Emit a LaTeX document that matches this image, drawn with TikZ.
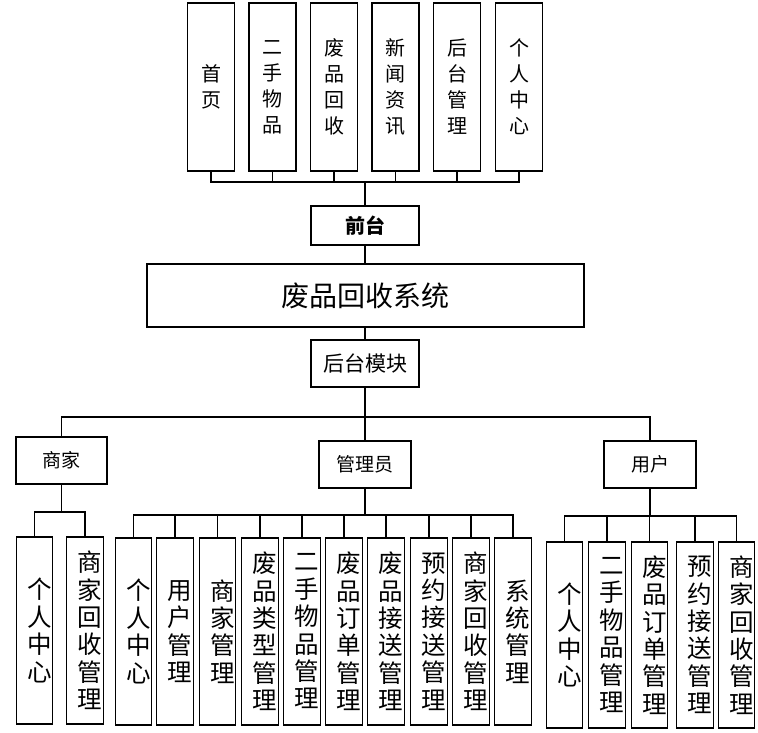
\documentclass[tikz,border=0pt]{standalone}
\usepackage{fontspec}
\newfontfamily\cjk{Noto Sans CJK SC}
\begin{document}
\begin{tikzpicture}[x=1pt,y=-1pt,
  box/.style={draw,line width=1.4pt,rectangle,inner sep=0pt,align=center},
  topbox/.style={box,minimum width=47pt,minimum height=168pt,font=\cjk\fontsize{20}{26}\selectfont},
  hbox/.style={box,minimum width=92pt,minimum height=47pt,font=\cjk\fontsize{19}{22}\selectfont},
  leaf/.style={box,minimum width=36.5pt,minimum height=187pt},
  leaftext/.style={align=center,inner sep=0pt,font=\cjk\fontsize{24.5}{27.4}\selectfont},
  wire/.style={line width=1.4pt}]
\useasboundingbox (0,0) rectangle (758,732);
% top row
\node[topbox] (t1) at (211,87) {首\\页};
\node[topbox] (t2) at (272.5,87) {二\\手\\物\\品};
\node[topbox] (t3) at (334,87) {废\\品\\回\\收};
\node[topbox] (t4) at (395.5,87) {新\\闻\\资\\讯};
\node[topbox] (t5) at (457,87) {后\\台\\管\\理};
\node[topbox] (t6) at (519,87) {个\\人\\中\\心};
\coordinate (topbus) at (365,182);
% centre column
\node[box,minimum width=108pt,minimum height=39pt,font=\cjk\bfseries\fontsize{20}{24}\selectfont] (qt) at (365,225.5) {前台};
\node[box,minimum width=437pt,minimum height=63pt,font=\cjk\fontsize{28}{32}\selectfont] (sys) at (365.5,295.5) {废品回收系统};
\node[box,minimum width=108pt,minimum height=47pt,font=\cjk\fontsize{21}{24}\selectfont] (ht) at (365,363.5) {后台模块};
\coordinate (midbus) at (365,417);
% second level
\node[hbox,minimum width=91pt] (sj) at (61.5,460.5) {商家};
\node[hbox] (gl) at (365,464.5) {管理员};
\node[hbox] (yh) at (650,464.5) {用户};
% leaves: merchant
\node[leaf,label={[leaftext,xshift=5pt]center:个\\人\\中\\心}] (s1) at (34.5,630.5) {};
\node[leaf,label={[leaftext,xshift=5pt]center:商\\家\\回\\收\\管\\理}] (s2) at (85,630.5) {};
\coordinate (sbus) at (61.5,512);
% leaves: admin
\node[leaf,label={[leaftext,xshift=5pt]center:个\\人\\中\\心}] (g1) at (133.5,631.5) {};
\node[leaf,label={[leaftext,xshift=5pt]center:用\\户\\管\\理}] (g2) at (175,631.5) {};
\node[leaf,label={[leaftext,xshift=5pt]center:商\\家\\管\\理}] (g3) at (217.5,631.5) {};
\node[leaf,label={[leaftext,xshift=5pt]center:废\\品\\类\\型\\管\\理}] (g4) at (260,631.5) {};
\node[leaf,label={[leaftext,xshift=5pt]center:二\\手\\物\\品\\管\\理}] (g5) at (302,631.5) {};
\node[leaf,label={[leaftext,xshift=5pt]center:废\\品\\订\\单\\管\\理}] (g6) at (344,631.5) {};
\node[leaf,label={[leaftext,xshift=5pt]center:废\\品\\接\\送\\管\\理}] (g7) at (386,631.5) {};
\node[leaf,label={[leaftext,xshift=5pt]center:预\\约\\接\\送\\管\\理}] (g8) at (429,631.5) {};
\node[leaf,label={[leaftext,xshift=5pt]center:商\\家\\回\\收\\管\\理}] (g9) at (471,631.5) {};
\node[leaf,label={[leaftext,xshift=5pt]center:系\\统\\管\\理}] (g10) at (513,631.5) {};
\coordinate (gbus) at (365,515);
% leaves: user
\node[leaf,minimum height=186pt,label={[leaftext,xshift=5pt]center:个\\人\\中\\心}] (u1) at (564.5,635) {};
\node[leaf,minimum height=186pt,label={[leaftext,xshift=5pt]center:二\\手\\物\\品\\管\\理}] (u2) at (607,635) {};
\node[leaf,minimum height=186pt,label={[leaftext,xshift=5pt]center:废\\品\\订\\单\\管\\理}] (u3) at (649.5,635) {};
\node[leaf,minimum height=186pt,label={[leaftext,xshift=5pt]center:预\\约\\接\\送\\管\\理}] (u4) at (695,635) {};
\node[leaf,minimum height=186pt,label={[leaftext,xshift=5pt]center:商\\家\\回\\收\\管\\理}] (u5) at (736.5,635) {};
\coordinate (ubus) at (650,516);
% connectors: top
\draw[wire] (t1.south) |- (topbus) -| (t6.south);
\foreach \n in {t2,t3,t4,t5} \draw[wire] (\n.south) -- (\n.south |- topbus);
\draw[wire] (topbus) -- (qt.north);
\draw[wire] (qt.south) -- (qt.south |- sys.north);
\draw[wire] (sys.south -| ht.north) -- (ht.north);
\draw[wire] (ht.south) -- (midbus);
\draw[wire] (sj.north) |- (midbus) -| (yh.north);
\draw[wire] (midbus) -- (gl.north);
% merchant
\draw[wire] (sj.south) -- (sbus);
\draw[wire] (s1.north) |- (sbus) -| (s2.north);
% admin
\draw[wire] (gl.south) -- (gbus);
\draw[wire] (g1.north) |- (gbus) -| (g10.north);
\foreach \n in {g2,g3,g4,g5,g6,g7,g8,g9} \draw[wire] (\n.north) -- (\n.north |- gbus);
% user
\draw[wire] (yh.south) -- (ubus);
\draw[wire] (u1.north) |- (ubus) -| (u5.north);
\foreach \n in {u2,u3,u4} \draw[wire] (\n.north) -- (\n.north |- ubus);
\end{tikzpicture}
\end{document}
